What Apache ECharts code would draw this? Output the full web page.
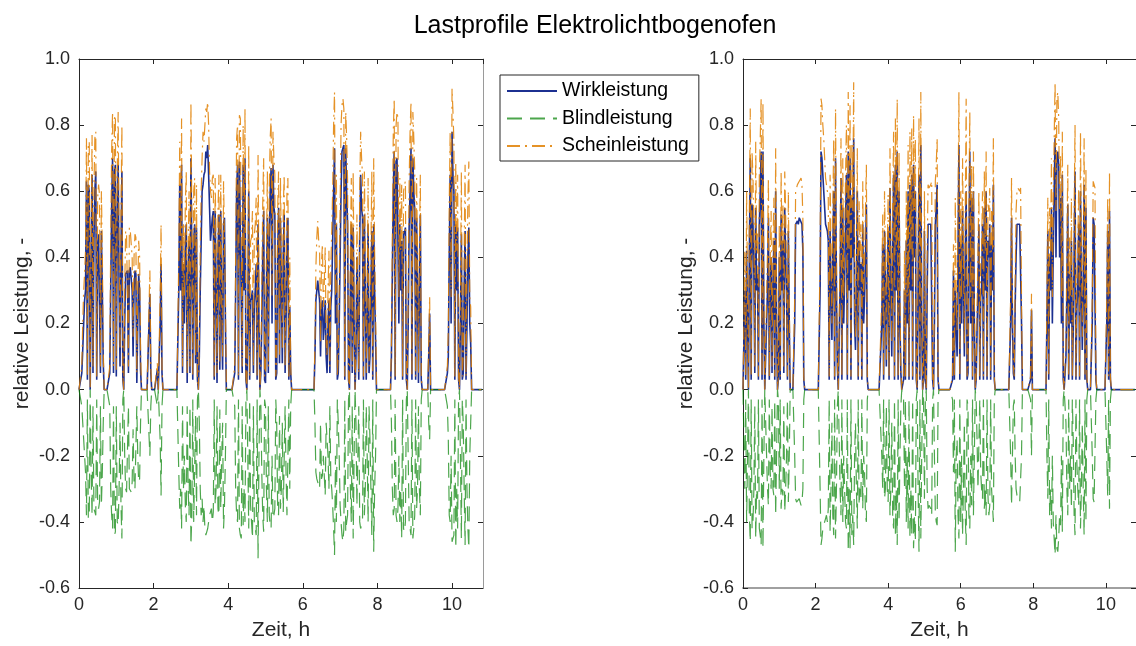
<!DOCTYPE html>
<html><head><meta charset="utf-8">
<script src="https://cdn.jsdelivr.net/npm/echarts@6/dist/echarts.min.js"></script>
<style>html,body{margin:0;padding:0;background:#fff;}#c{width:1136px;height:646px;}</style>
</head><body><div id="c"></div>
<script>
const chartTitle = 'Lastprofile Elektrolichtbogenofen';
const seriesNames = ['Wirkleistung', 'Blindleistung', 'Scheinleistung'];
const xAxisName = 'Zeit, h';
const yAxisName = 'relative Leistung, -';
const timeStep = 0.025; // h between samples
const xMin = 0, xMax = 10.83, xInterval = 2;
const yMin = -0.6, yMax = 1.0, yInterval = 0.2;

// Left subplot
const leftWirk = [
0,0,0,0.05,0.12,0.2,0.27,0.3,0.63,0.03,0.62,0.6,0,0.3,0.65,0.05,0.45,0.6,0.66,0.03,
0.44,0.47,0.47,0.05,0.48,0.3,0.08,0,0,0,0,0,0,0.05,0.3,0.55,0.7,0.05,0.66,0.68,
0.04,0.5,0.68,0.3,0.07,0.4,0.66,0.03,0,0.2,0.35,0.35,0.36,0.05,0.36,0.37,0.37,0.3,0.1,0.3,
0.36,0.35,0.02,0.2,0.35,0.3,0.06,0,0,0,0,0,0,0,0,0,0.29,0.05,0,0,
0,0,0,0,0.06,0,0,0.2,0.38,0.05,0,0,0,0,0,0,0,0,0,0,
0,0,0,0,0,0,0,0.3,0.62,0.3,0.68,0.05,0.38,0.2,0.43,0.5,0.02,0.3,0.45,0.05,
0.7,0.4,0.03,0.45,0.5,0.08,0.49,0.03,0,0.1,0.3,0.45,0.6,0.62,0.65,0.66,0.72,0.7,0.74,0.65,
0.55,0.45,0.45,0.52,0.54,0.03,0.54,0.3,0.02,0.4,0.53,0.06,0.54,0.2,0.06,0.5,0.52,0.2,0,0,
0,0,0,0,0,0,0,0.05,0.3,0.6,0.68,0.03,0.69,0.69,0.69,0.05,0.68,0.3,0.7,0.03,
0,0.2,0.6,0.03,0.27,0.28,0.3,0.05,0.26,0.3,0.38,0.03,0.5,0.2,0,0.05,0.2,0.4,0.54,0.03,
0.02,0.3,0.52,0.05,0.45,0.6,0.67,0.2,0.68,0.55,0.53,0.03,0.05,0.4,0.55,0.08,0.52,0.3,0.08,0.4,
0.53,0.05,0.2,0.45,0.52,0.03,0.25,0.05,0,0,0,0,0,0,0,0,0,0,0,0,
0,0,0,0,0,0,0,0,0,0,0,0,0,0.1,0.27,0.3,0.33,0.3,0.27,0.1,
0.25,0.27,0.15,0.2,0.27,0.1,0.05,0.2,0.27,0.05,0.25,0.3,0.45,0.6,0.73,0.2,0.5,0.03,0.05,0.2,
0.4,0.6,0.72,0.73,0.74,0.03,0.73,0.6,0.5,0.03,0,0.3,0.5,0.05,0.49,0.2,0,0.1,0.4,0.2,
0.03,0.45,0.65,0.55,0.52,0.03,0.53,0.3,0.03,0.2,0.5,0.05,0.1,0.3,0.48,0.03,0.5,0.3,0.15,0,
0,0,0,0,0,0,0,0,0,0,0,0,0,0,0,0.1,0.35,0.6,0.72,0.03,
0.69,0.7,0.7,0.2,0.5,0.3,0.45,0.03,0.48,0.47,0.49,0.03,0,0.2,0.49,0.6,0.73,0.03,0.7,0.6,
0.54,0.03,0.52,0.3,0.02,0.3,0.53,0.03,0,0,0,0,0,0,0,0.1,0.23,0,0,0,
0,0,0,0,0,0,0,0,0,0,0,0,0,0,0,0.05,0.1,0.4,0.65,0.2,
0.78,0.65,0.6,0.03,0.5,0.3,0.49,0.03,0,0.2,0.47,0.03,0.05,0.3,0.48,0.03,0.19,0.4,0.49,0.2,
0.14,0,0,0,0,0,0,0,0,0,0,0,0];
const leftBlind = [
0,0,0,-0.05,-0.1,-0.15,-0.2,-0.25,-0.38,-0.03,-0.39,-0.38,0,-0.25,-0.38,-0.05,-0.36,-0.37,-0.38,-0.03,
-0.35,-0.36,-0.34,-0.05,-0.35,-0.25,-0.1,0,0,0,0,0,0,-0.05,-0.3,-0.38,-0.42,-0.05,-0.44,-0.43,
-0.05,-0.4,-0.41,-0.3,-0.1,-0.35,-0.45,-0.03,0,-0.2,-0.3,-0.31,-0.31,-0.05,-0.3,-0.3,-0.31,-0.28,-0.12,-0.28,
-0.3,-0.3,-0.05,-0.2,-0.28,-0.27,-0.1,0,0,0,0,0,0,0,0,0,-0.2,-0.05,0,0,
0,0,0,0,-0.05,0,0,-0.15,-0.32,-0.05,0,0,0,0,0,0,0,0,0,0,
0,0,0,0,0,0,0,-0.25,-0.36,-0.3,-0.42,-0.05,-0.3,-0.2,-0.35,-0.4,-0.05,-0.3,-0.38,-0.05,
-0.47,-0.38,-0.03,-0.4,-0.4,-0.08,-0.38,-0.03,0,-0.1,-0.3,-0.38,-0.33,-0.4,-0.35,-0.42,-0.44,-0.43,-0.42,-0.4,
-0.38,-0.37,-0.36,-0.4,-0.37,-0.03,-0.35,-0.3,-0.05,-0.36,-0.38,-0.06,-0.36,-0.2,-0.1,-0.42,-0.35,-0.2,0,0,
0,0,0,0,0,0,0,-0.05,-0.3,-0.38,-0.4,-0.03,-0.42,-0.44,-0.45,-0.05,-0.41,-0.3,-0.4,-0.03,
0,-0.2,-0.42,-0.03,-0.35,-0.4,-0.45,-0.05,-0.4,-0.42,-0.44,-0.03,-0.51,-0.2,0,-0.05,-0.25,-0.38,-0.43,-0.03,
-0.05,-0.3,-0.4,-0.05,-0.38,-0.41,-0.42,-0.2,-0.39,-0.38,-0.36,-0.03,-0.1,-0.36,-0.38,-0.08,-0.36,-0.3,-0.1,-0.37,
-0.37,-0.05,-0.25,-0.38,-0.38,-0.03,-0.3,-0.05,0,0,0,0,0,0,0,0,0,0,0,0,
0,0,0,0,0,0,0,0,0,0,0,0,0,-0.1,-0.25,-0.27,-0.28,-0.29,-0.3,-0.1,
-0.27,-0.26,-0.2,-0.2,-0.32,-0.1,-0.1,-0.2,-0.3,-0.05,-0.27,-0.3,-0.35,-0.42,-0.5,-0.2,-0.4,-0.03,-0.1,-0.2,
-0.35,-0.4,-0.44,-0.46,-0.42,-0.03,-0.43,-0.4,-0.38,-0.03,0,-0.3,-0.4,-0.05,-0.45,-0.2,0,-0.1,-0.35,-0.2,
-0.05,-0.4,-0.42,-0.41,-0.4,-0.03,-0.38,-0.3,-0.05,-0.2,-0.4,-0.05,-0.15,-0.3,-0.44,-0.03,-0.49,-0.3,-0.2,0,
0,0,0,0,0,0,0,0,0,0,0,0,0,0,0,-0.1,-0.3,-0.38,-0.36,-0.03,
-0.38,-0.4,-0.36,-0.2,-0.4,-0.3,-0.45,-0.03,-0.42,-0.43,-0.4,-0.03,0,-0.2,-0.4,-0.42,-0.44,-0.03,-0.45,-0.42,
-0.38,-0.03,-0.36,-0.3,-0.05,-0.3,-0.38,-0.03,0,0,0,0,0,0,0,-0.1,-0.15,0,0,0,
0,0,0,0,0,0,0,0,0,0,0,0,0,0,0,-0.05,-0.15,-0.38,-0.4,-0.2,
-0.46,-0.45,-0.44,-0.03,-0.48,-0.3,-0.42,-0.03,0,-0.2,-0.45,-0.03,-0.1,-0.3,-0.47,-0.03,-0.3,-0.42,-0.48,-0.2,
-0.2,0,0,0,0,0,0,0,0,0,0,0,0];
const leftSchein = [
0,0,0,0.07,0.2,0.3,0.35,0.42,0.76,0.04,0.74,0.75,0,0.42,0.77,0.07,0.6,0.76,0.78,0.04,
0.58,0.62,0.59,0.07,0.6,0.42,0.12,0,0,0,0,0,0,0.07,0.45,0.72,0.84,0.07,0.82,0.83,
0.06,0.66,0.84,0.42,0.12,0.54,0.8,0.04,0,0.3,0.48,0.47,0.47,0.07,0.49,0.48,0.48,0.4,0.16,0.4,
0.47,0.46,0.05,0.3,0.45,0.4,0.12,0,0,0,0,0,0,0,0,0,0.36,0.07,0,0,
0,0,0,0,0.08,0,0,0.28,0.5,0.07,0,0,0,0,0,0,0,0,0,0,
0,0,0,0,0,0,0,0.4,0.75,0.42,0.82,0.07,0.5,0.28,0.56,0.66,0.05,0.42,0.6,0.07,
0.87,0.54,0.04,0.6,0.64,0.1,0.62,0.04,0,0.14,0.42,0.6,0.7,0.78,0.75,0.8,0.85,0.84,0.87,0.8,
0.66,0.6,0.58,0.64,0.65,0.04,0.64,0.42,0.05,0.54,0.65,0.08,0.65,0.28,0.1,0.63,0.63,0.28,0,0,
0,0,0,0,0,0,0,0.07,0.42,0.76,0.8,0.04,0.83,0.82,0.82,0.07,0.8,0.42,0.85,0.04,
0,0.28,0.74,0.04,0.45,0.46,0.54,0.07,0.47,0.5,0.58,0.04,0.71,0.3,0,0.07,0.32,0.56,0.7,0.04,
0.05,0.42,0.66,0.07,0.6,0.76,0.82,0.28,0.78,0.7,0.65,0.04,0.1,0.54,0.66,0.1,0.64,0.42,0.12,0.54,
0.65,0.07,0.3,0.6,0.64,0.04,0.4,0.07,0,0,0,0,0,0,0,0,0,0,0,0,
0,0,0,0,0,0,0,0,0,0,0,0,0,0.14,0.37,0.46,0.51,0.45,0.42,0.14,
0.38,0.44,0.25,0.32,0.43,0.14,0.1,0.3,0.42,0.07,0.37,0.48,0.6,0.8,0.9,0.28,0.65,0.04,0.1,0.3,
0.55,0.8,0.86,0.88,0.85,0.04,0.84,0.76,0.63,0.04,0,0.42,0.64,0.07,0.66,0.28,0,0.14,0.53,0.28,
0.05,0.6,0.78,0.7,0.65,0.04,0.66,0.42,0.05,0.28,0.64,0.07,0.18,0.42,0.66,0.04,0.7,0.42,0.25,0,
0,0,0,0,0,0,0,0,0,0,0,0,0,0,0,0.14,0.46,0.78,0.88,0.04,
0.8,0.84,0.82,0.28,0.64,0.42,0.62,0.04,0.6,0.62,0.63,0.04,0,0.28,0.63,0.78,0.87,0.04,0.84,0.76,
0.66,0.04,0.64,0.42,0.05,0.42,0.65,0.04,0,0,0,0,0,0,0,0.14,0.28,0,0,0,
0,0,0,0,0,0,0,0,0,0,0,0,0,0,0,0.07,0.18,0.56,0.78,0.28,
0.91,0.84,0.75,0.04,0.69,0.42,0.65,0.04,0,0.28,0.66,0.04,0.1,0.42,0.68,0.04,0.36,0.58,0.69,0.28,
0.25,0,0,0,0,0,0,0,0,0,0,0,0];

// Right subplot
const rightWirk = [
0,0.15,0.3,0.03,0.42,0.2,0,0.4,0.7,0.03,0.56,0.5,0.35,0.05,0.55,0.3,0.35,0.03,0.5,0.6,
0.72,0.03,0.72,0.2,0,0,0,0.3,0.52,0.03,0.3,0.4,0.05,0.3,0.45,0.03,0.6,0.2,0,0.03,
0.4,0.03,0.53,0.3,0.45,0.05,0.55,0.4,0.3,0.03,0.48,0.2,0,0,0,0,0,0.2,0.5,0.5,
0.51,0.5,0.52,0.52,0.52,0.5,0.42,0.03,0,0,0,0,0,0,0,0,0,0,0,0,
0,0,0,0,0,0.3,0.72,0.7,0.65,0.6,0.55,0.5,0.5,0.48,0.45,0.03,0.48,0.3,0.15,0.4,
0.6,0.03,0.7,0.3,0.07,0,0,0.3,0.64,0.03,0.55,0.2,0.33,0.5,0.65,0.03,0.72,0.3,0.7,0.03,
0.58,0.4,0.76,0.2,0.12,0.3,0.6,0.03,0.45,0.3,0.38,0.03,0.5,0.2,0.28,0.4,0.56,0.03,0,0,
0,0,0,0,0,0,0,0,0,0,0,0,0,0.2,0.44,0.03,0.48,0.3,0.07,0.3,
0.48,0.03,0.61,0.3,0.1,0.4,0.65,0.03,0.68,0.3,0.72,0.03,0.6,0.2,0.05,0,0,0.03,0.3,0.03,
0.45,0.2,0.6,0.03,0.62,0.3,0.65,0.03,0.68,0.4,0.6,0.03,0,0.3,0.65,0.03,0.74,0.2,0,0.03,
0.48,0.03,0,0.3,0.5,0.5,0.5,0.5,0.5,0.03,0,0.2,0.5,0.55,0.62,0.03,0,0,0,0,
0,0,0,0,0,0,0,0,0,0,0,0.03,0.36,0.03,0.3,0.2,0.1,0.4,0.74,0.03,
0.44,0.2,0.54,0.3,0.1,0.4,0.6,0.03,0.05,0.4,0.72,0.2,0.58,0.03,0.6,0.2,0,0.03,0.18,0.3,
0.5,0.03,0.28,0.3,0.5,0.03,0.55,0.3,0.6,0.03,0.45,0.4,0.5,0.03,0.44,0.3,0.62,0.03,0,0,
0,0,0,0,0,0,0,0,0,0,0,0,0,0,0,0.2,0.52,0.2,0.05,0.03,
0.25,0.4,0.5,0.5,0.5,0.5,0.5,0.2,0,0,0,0,0,0,0,0,0,0.03,0.24,0,
0,0,0,0,0,0,0,0,0,0,0,0,0,0,0,0.2,0.48,0.03,0.4,0.3,
0.55,0.2,0.42,0.6,0.76,0.4,0.7,0.72,0.68,0.4,0.58,0.2,0.65,0.03,0,0.05,0.1,0.3,0.56,0.03,
0.35,0.2,0.45,0.03,0.18,0.4,0.66,0.03,0.25,0.3,0.5,0.03,0.6,0.3,0.12,0.3,0.62,0.03,0.55,0.03,
0,0,0,0,0,0.2,0.52,0.5,0.5,0.03,0,0,0,0,0,0,0,0,0,0,
0,0.2,0.48,0.03,0.54,0.03,0,0,0,0,0,0,0,0,0,0,0,0,0,0,
0,0,0,0,0,0,0,0,0,0,0,0,0];
const rightBlind = [
0,-0.15,-0.3,-0.03,-0.4,-0.2,0,-0.38,-0.46,-0.03,-0.42,-0.4,-0.3,-0.05,-0.45,-0.3,-0.33,-0.03,-0.42,-0.44,
-0.47,-0.03,-0.48,-0.2,0,0,0,-0.3,-0.35,-0.03,-0.25,-0.3,-0.05,-0.3,-0.32,-0.03,-0.38,-0.2,0,-0.03,
-0.3,-0.03,-0.36,-0.3,-0.32,-0.05,-0.37,-0.3,-0.2,-0.03,-0.34,-0.2,0,0,0,0,0,-0.2,-0.33,-0.34,
-0.34,-0.34,-0.33,-0.34,-0.35,-0.34,-0.3,-0.03,0,0,0,0,0,0,0,0,0,0,0,0,
0,0,0,0,0,-0.3,-0.47,-0.45,-0.42,-0.41,-0.4,-0.39,-0.38,-0.4,-0.36,-0.03,-0.43,-0.3,-0.1,-0.38,
-0.44,-0.03,-0.45,-0.3,-0.05,0,0,-0.3,-0.38,-0.03,-0.4,-0.2,-0.3,-0.4,-0.42,-0.03,-0.49,-0.3,-0.48,-0.03,
-0.44,-0.38,-0.47,-0.2,-0.1,-0.3,-0.42,-0.03,-0.35,-0.3,-0.33,-0.03,-0.36,-0.2,-0.25,-0.38,-0.4,-0.03,0,0,
0,0,0,0,0,0,0,0,0,0,0,0,0,-0.2,-0.3,-0.03,-0.33,-0.3,-0.05,-0.3,
-0.34,-0.03,-0.38,-0.3,-0.1,-0.38,-0.42,-0.03,-0.44,-0.3,-0.47,-0.03,-0.4,-0.2,-0.05,0,0,-0.03,-0.3,-0.03,
-0.4,-0.2,-0.42,-0.03,-0.45,-0.3,-0.44,-0.03,-0.48,-0.38,-0.46,-0.03,0,-0.3,-0.49,-0.03,-0.45,-0.2,0,-0.03,
-0.33,-0.03,0,-0.3,-0.36,-0.35,-0.35,-0.36,-0.38,-0.03,0,-0.2,-0.37,-0.4,-0.41,-0.03,0,0,0,0,
0,0,0,0,0,0,0,0,0,0,0,-0.03,-0.25,-0.03,-0.49,-0.2,-0.15,-0.38,-0.45,-0.03,
-0.4,-0.2,-0.44,-0.3,-0.1,-0.38,-0.47,-0.03,-0.05,-0.38,-0.42,-0.2,-0.35,-0.03,-0.38,-0.2,0,-0.03,-0.15,-0.3,
-0.3,-0.03,-0.25,-0.3,-0.33,-0.03,-0.36,-0.3,-0.38,-0.03,-0.32,-0.38,-0.35,-0.03,-0.3,-0.3,-0.4,-0.03,0,0,
0,0,0,0,0,0,0,0,0,0,0,0,0,0,0,-0.2,-0.35,-0.2,-0.05,-0.03,
-0.2,-0.3,-0.32,-0.33,-0.33,-0.34,-0.34,-0.2,0,0,0,0,0,0,0,0,0,-0.03,-0.2,0,
0,0,0,0,0,0,0,0,0,0,0,0,0,0,0,-0.2,-0.33,-0.03,-0.38,-0.3,
-0.42,-0.2,-0.4,-0.45,-0.5,-0.38,-0.48,-0.49,-0.45,-0.38,-0.41,-0.2,-0.43,-0.03,0,-0.05,-0.1,-0.3,-0.38,-0.03,
-0.3,-0.2,-0.36,-0.03,-0.15,-0.38,-0.44,-0.03,-0.22,-0.3,-0.35,-0.03,-0.42,-0.3,-0.1,-0.3,-0.44,-0.03,-0.4,-0.03,
0,0,0,0,0,-0.2,-0.33,-0.34,-0.34,-0.03,0,0,0,0,0,0,0,0,0,0,
0,-0.2,-0.32,-0.03,-0.36,-0.03,0,0,0,0,0,0,0,0,0,0,0,0,0,0,
0,0,0,0,0,0,0,0,0,0,0,0,0];
const rightSchein = [
0,0.2,0.42,0.04,0.6,0.28,0,0.54,0.85,0.04,0.72,0.64,0.5,0.07,0.75,0.42,0.48,0.04,0.65,0.76,
0.88,0.04,0.87,0.28,0,0,0,0.42,0.64,0.04,0.4,0.54,0.07,0.42,0.58,0.04,0.73,0.28,0,0.04,
0.5,0.04,0.66,0.42,0.56,0.07,0.66,0.54,0.36,0.04,0.6,0.28,0,0,0,0,0,0.28,0.6,0.61,
0.62,0.62,0.63,0.63,0.64,0.62,0.52,0.04,0,0,0,0,0,0,0,0,0,0,0,0,
0,0,0,0,0,0.42,0.88,0.86,0.8,0.76,0.7,0.64,0.64,0.6,0.58,0.04,0.65,0.42,0.2,0.54,
0.76,0.04,0.85,0.42,0.09,0,0,0.42,0.76,0.04,0.7,0.28,0.45,0.64,0.8,0.04,0.9,0.42,0.86,0.04,
0.74,0.54,0.93,0.28,0.16,0.42,0.73,0.04,0.57,0.42,0.5,0.04,0.63,0.28,0.38,0.54,0.68,0.04,0,0,
0,0,0,0,0,0,0,0,0,0,0,0,0,0.28,0.53,0.04,0.6,0.42,0.09,0.42,
0.59,0.04,0.73,0.42,0.14,0.54,0.78,0.04,0.82,0.42,0.88,0.04,0.72,0.28,0.07,0,0,0.04,0.42,0.04,
0.6,0.28,0.74,0.04,0.78,0.42,0.79,0.04,0.83,0.54,0.76,0.04,0,0.42,0.82,0.04,0.9,0.28,0,0.04,
0.6,0.04,0,0.42,0.62,0.61,0.61,0.62,0.63,0.04,0,0.28,0.63,0.68,0.76,0.04,0,0,0,0,
0,0,0,0,0,0,0,0,0,0,0,0.04,0.44,0.04,0.58,0.28,0.18,0.54,0.9,0.04,
0.6,0.28,0.7,0.42,0.14,0.54,0.88,0.04,0.07,0.54,0.84,0.28,0.68,0.04,0.72,0.28,0,0.04,0.24,0.42,
0.6,0.04,0.38,0.42,0.6,0.04,0.66,0.42,0.72,0.04,0.56,0.54,0.61,0.04,0.54,0.42,0.76,0.04,0,0,
0,0,0,0,0,0,0,0,0,0,0,0,0,0,0,0.28,0.64,0.28,0.07,0.04,
0.32,0.54,0.6,0.61,0.61,0.6,0.61,0.28,0,0,0,0,0,0,0,0,0,0.04,0.29,0,
0,0,0,0,0,0,0,0,0,0,0,0,0,0,0,0.28,0.58,0.04,0.55,0.42,
0.7,0.28,0.58,0.76,0.93,0.54,0.88,0.9,0.82,0.54,0.71,0.28,0.78,0.04,0,0.07,0.14,0.42,0.68,0.04,
0.46,0.28,0.58,0.04,0.23,0.54,0.8,0.04,0.33,0.42,0.61,0.04,0.78,0.42,0.16,0.42,0.76,0.04,0.67,0.04,
0,0,0,0,0,0.28,0.63,0.62,0.61,0.04,0,0,0,0,0,0,0,0,0,0,
0,0.28,0.58,0.04,0.66,0.04,0,0,0,0,0,0,0,0,0,0,0,0,0,0,
0,0,0,0,0,0,0,0,0,0,0,0,0];

const textColor = '#262626';
const colors = ['#1c3091', '#008000', '#e07f00'];

function pairs(vals) { return vals.map((v, i) => [i * timeStep, v]); }

const grids = [
  { left: 79, top: 59, width: 404, height: 532 },
  { left: 743, top: 59, width: 404, height: 532 }
];

const xAxes = [], yAxes = [];
grids.forEach((g, gi) => {
  const bottomColor = gi === 1 ? '#a0a0a0' : textColor;
  const bottomWidth = gi === 1 ? 2 : 1;
  xAxes.push({
    type: 'value', gridIndex: gi, position: 'bottom', min: xMin, max: xMax, interval: xInterval,
    name: xAxisName, nameLocation: 'middle', nameGap: 32,
    nameTextStyle: { fontSize: 21, color: textColor, fontFamily: 'Liberation Sans' },
    axisLine: { show: true, onZero: false, lineStyle: { color: bottomColor, width: bottomWidth } },
    axisTick: { show: true, inside: true, length: 5, lineStyle: { color: textColor } },
    axisLabel: { fontSize: 18, color: textColor, margin: 8, showMaxLabel: false, fontFamily: 'Liberation Sans' },
    splitLine: { show: false }
  });
  xAxes.push({
    type: 'value', gridIndex: gi, position: 'top', min: xMin, max: xMax, interval: xInterval,
    axisLine: { show: true, onZero: false, lineStyle: { color: textColor } },
    axisTick: { show: true, inside: true, length: 5, lineStyle: { color: textColor } },
    axisLabel: { show: false }, splitLine: { show: false }
  });
  yAxes.push({
    type: 'value', gridIndex: gi, position: 'left', min: yMin, max: yMax, interval: yInterval,
    name: yAxisName, nameLocation: 'middle', nameGap: 46,
    nameTextStyle: { fontSize: 21, color: textColor, fontFamily: 'Liberation Sans' },
    axisLine: { show: true, onZero: false, lineStyle: { color: textColor } },
    axisTick: { show: true, inside: true, length: 5, lineStyle: { color: textColor } },
    axisLabel: { fontSize: 18, color: textColor, margin: 9, fontFamily: 'Liberation Sans',
      formatter: v => v.toFixed(1) },
    splitLine: { show: false }
  });
  yAxes.push({
    type: 'value', gridIndex: gi, position: 'right', min: yMin, max: yMax, interval: yInterval,
    axisLine: { show: true, onZero: false, lineStyle: { color: '#9a9a9a' } },
    axisTick: { show: true, inside: true, length: 5, lineStyle: { color: textColor } },
    axisLabel: { show: false }, splitLine: { show: false }
  });
});

const subplotData = [
  [leftWirk, leftBlind, leftSchein],
  [rightWirk, rightBlind, rightSchein]
];
const lineStyles = [
  { color: colors[0], width: 1.6, type: 'solid', opacity: 1 },
  { color: colors[1], width: 1.2, type: [15, 8], opacity: 0.7 },
  { color: colors[2], width: 1.2, type: [13, 5, 2, 5], opacity: 0.85 }
];
const series = [];
subplotData.forEach((set, gi) => {
  set.forEach((vals, si) => {
    series.push({
      name: seriesNames[si], type: 'line', xAxisIndex: gi * 2, yAxisIndex: gi * 2,
      data: pairs(vals), showSymbol: false, symbol: 'none', silent: true,
      lineStyle: lineStyles[si], itemStyle: { color: colors[si] }, z: 2 + si
    });
  });
});

const chart = echarts.init(document.getElementById('c'), null, { renderer: 'canvas' });
chart.setOption({
  animation: false,
  backgroundColor: '#fff',
  title: {
    text: chartTitle, left: 590, top: 9, textAlign: 'center',
    textStyle: { fontSize: 25, fontWeight: 'normal', color: '#000', fontFamily: 'Liberation Sans' }
  },
  legend: {
    data: seriesNames, orient: 'vertical', left: 500, top: 75,
    padding: [6, 10, 5, 6], itemGap: 7.5, itemWidth: 50, itemHeight: 12,
    backgroundColor: '#fff', borderColor: textColor, borderWidth: 1, borderRadius: 0,
    itemStyle: { opacity: 0 },
    textStyle: { fontSize: 19.5, color: '#000', fontFamily: 'Liberation Sans' },
    selectedMode: false
  },
  grid: grids,
  xAxis: xAxes,
  yAxis: yAxes,
  series: series
});
</script></body></html>
